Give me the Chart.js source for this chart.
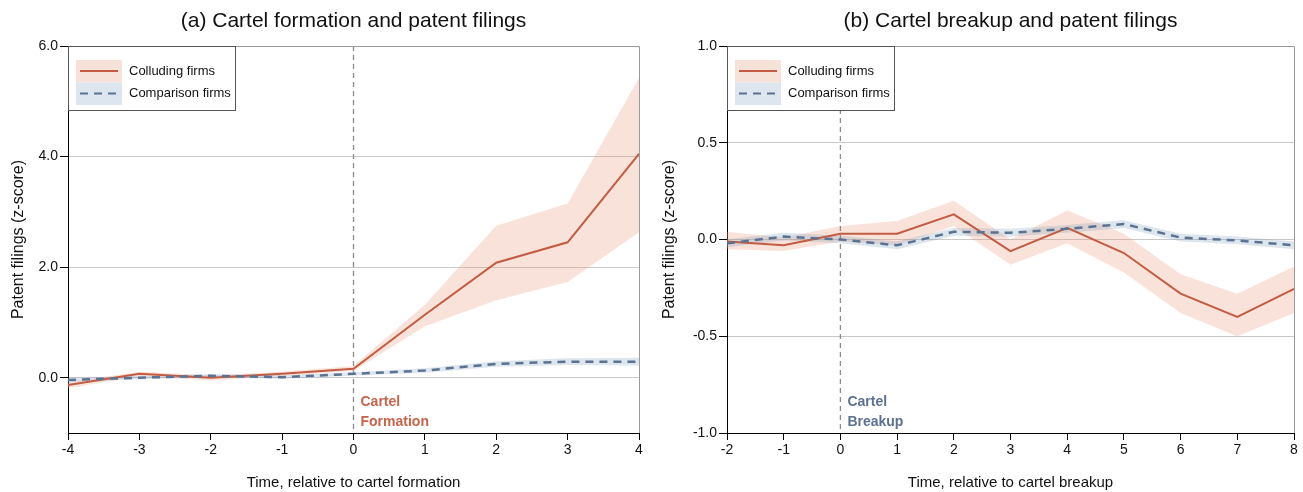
<!DOCTYPE html>
<html>
<head>
<meta charset="utf-8">
<script src="https://cdn.jsdelivr.net/npm/chart.js@4/dist/chart.umd.min.js"></script>
<style>
  body { margin: 0; background: #fff; }
  .panel { position: absolute; top: 0; }
</style>
</head>
<body>
<div class="panel" style="left:0"><canvas id="chartA" width="651" height="492"></canvas></div>
<div class="panel" style="left:651px"><canvas id="chartB" width="652" height="492"></canvas></div>
<script>
// Panel (a): cartel formation
const xA = [-4, -3, -2, -1, 0, 1, 2, 3, 4];
const collA = [-0.13, 0.07, 0.0, 0.07, 0.16, 1.14, 2.08, 2.45, 4.05];
const collAHi = [-0.08, 0.11, 0.04, 0.11, 0.21, 1.32, 2.75, 3.15, 5.42];
const collALo = [-0.19, 0.03, -0.05, 0.03, 0.12, 0.93, 1.40, 1.73, 2.63];
const compA = [-0.04, 0.0, 0.035, 0.01, 0.07, 0.13, 0.25, 0.29, 0.29];
const compAHi = [0.0, 0.03, 0.065, 0.04, 0.10, 0.17, 0.30, 0.35, 0.36];
const compALo = [-0.08, -0.03, 0.005, -0.02, 0.04, 0.09, 0.20, 0.23, 0.22];
const yTicksA = [0, 2, 4, 6];

// Panel (b): cartel breakup
const xB = [-2, -1, 0, 1, 2, 3, 4, 5, 6, 7, 8];
const collB = [-0.01, -0.03, 0.03, 0.03, 0.13, -0.06, 0.06, -0.07, -0.28, -0.40, -0.255];
const collBHi = [0.04, 0.01, 0.07, 0.095, 0.20, 0.0, 0.15, 0.03, -0.18, -0.28, -0.14];
const collBLo = [-0.05, -0.06, -0.01, -0.03, 0.07, -0.13, -0.02, -0.17, -0.38, -0.50, -0.38];
const compB = [-0.02, 0.015, 0.0, -0.03, 0.04, 0.035, 0.055, 0.08, 0.01, -0.005, -0.03];
const compBHi = [0.0, 0.035, 0.02, -0.01, 0.06, 0.055, 0.075, 0.10, 0.03, 0.015, -0.01];
const compBLo = [-0.04, -0.005, -0.02, -0.05, 0.02, 0.015, 0.035, 0.06, -0.01, -0.025, -0.05];
const yTicksB = [-1, -0.5, 0, 0.5, 1];

const seriesNames = ['Colluding firms', 'Comparison firms'];

const FONT = '"Liberation Sans", Arial, Helvetica, sans-serif';
Chart.defaults.font.family = FONT;
Chart.defaults.color = '#111';

const RED = '#c35c43';
const RED_BAND = 'rgba(232,160,130,0.3)';
const BLUE = '#5a7392';
const BLUE_BAND = 'rgba(120,150,185,0.25)';

const pts = (xs, ys) => xs.map((x, i) => ({ x: x, y: ys[i] }));

// Title, legend, event line, annotation and grey frame
const panelDecor = {
  id: 'panelDecor',
  beforeDatasetsDraw(chart, args, opts) {
    const { ctx, chartArea: a, scales } = chart;
    const x0 = scales.x.getPixelForValue(opts.eventAt);
    ctx.save();
    ctx.strokeStyle = '#8a8a8a';
    ctx.lineWidth = 1.3;
    ctx.setLineDash([5, 4]);
    ctx.beginPath();
    ctx.moveTo(x0, a.top);
    ctx.lineTo(x0, a.bottom);
    ctx.stroke();
    ctx.restore();
  },
  afterDraw(chart, args, opts) {
    const { ctx, chartArea: a, scales } = chart;
    ctx.save();
    // frame top/right
    ctx.strokeStyle = '#9a9a9a';
    ctx.lineWidth = 1;
    ctx.beginPath();
    ctx.moveTo(a.left, a.top + 0.5);
    ctx.lineTo(a.right + 0.5, a.top + 0.5);
    ctx.lineTo(a.right + 0.5, a.bottom);
    ctx.stroke();

    // title
    ctx.fillStyle = '#111';
    ctx.font = '21px ' + FONT;
    ctx.textAlign = 'center';
    ctx.textBaseline = 'middle';
    ctx.fillText(opts.title, (a.left + a.right) / 2, 21);

    // legend
    const lx = a.left, ly = a.top;
    ctx.fillStyle = '#fff';
    ctx.fillRect(lx, ly, 168, 65);
    ctx.strokeStyle = '#555';
    ctx.strokeRect(lx + 0.5, ly + 0.5, 167, 64);
    const entries = [
      { band: 'rgb(246,226,216)', color: RED, dash: [] },
      { band: 'rgb(221,229,238)', color: BLUE, dash: [8, 6] }
    ];
    entries.forEach((e, i) => {
      const y = ly + 14 + i * 22.5;
      ctx.fillStyle = e.band;
      ctx.fillRect(lx + 8, y, 46, 22.5);
      ctx.strokeStyle = e.color;
      ctx.lineWidth = 2;
      ctx.setLineDash(e.dash);
      ctx.beginPath();
      ctx.moveTo(lx + 12, y + 11);
      ctx.lineTo(lx + 50, y + 11);
      ctx.stroke();
      ctx.setLineDash([]);
      ctx.fillStyle = '#111';
      ctx.font = '13px ' + FONT;
      ctx.textAlign = 'left';
      ctx.fillText(seriesNames[i], lx + 61, y + 11);
    });

    // event annotation
    const x0 = scales.x.getPixelForValue(opts.eventAt);
    ctx.fillStyle = opts.noteColor;
    ctx.font = 'bold 14px ' + FONT;
    ctx.textAlign = 'left';
    ctx.fillText(opts.note[0], x0 + 7, a.bottom - 31);
    ctx.fillText(opts.note[1], x0 + 7, a.bottom - 11);
    ctx.restore();
  }
};

function makeChart(id, xs, coll, collHi, collLo, comp, compHi, compLo, yMin, yMax, yTicks, yWidth, padRight, xTitle, decor) {
  return new Chart(document.getElementById(id), {
    type: 'line',
    data: {
      datasets: [
        { data: pts(xs, compHi), fill: '+1', backgroundColor: BLUE_BAND, borderWidth: 0, pointRadius: 0 },
        { data: pts(xs, compLo), fill: false, borderWidth: 0, pointRadius: 0 },
        { data: pts(xs, collHi), fill: '+1', backgroundColor: RED_BAND, borderWidth: 0, pointRadius: 0 },
        { data: pts(xs, collLo), fill: false, borderWidth: 0, pointRadius: 0 },
        { data: pts(xs, comp), borderColor: BLUE, borderWidth: 2.5, borderDash: [8, 6], pointRadius: 0, fill: false },
        { data: pts(xs, coll), borderColor: RED, borderWidth: 2, pointRadius: 0, fill: false }
      ]
    },
    options: {
      responsive: false,
      animation: false,
      layout: { padding: { top: 46, right: padRight, left: 0, bottom: 0 } },
      plugins: {
        legend: { display: false },
        tooltip: { enabled: false },
        filler: { drawTime: 'beforeDatasetsDraw' },
        panelDecor: decor
      },
      scales: {
        x: {
          type: 'linear',
          min: xs[0],
          max: xs[xs.length - 1],
          ticks: { stepSize: 1, font: { size: 14 }, color: '#111', padding: 2 },
          grid: { drawOnChartArea: false, tickLength: 7, tickColor: '#000' },
          border: { color: '#000', width: 1 },
          title: { display: true, text: xTitle, font: { size: 15 }, color: '#111', padding: { top: 0, bottom: 0 } },
          afterFit: (s) => { s.height = 59; }
        },
        y: {
          min: yMin,
          max: yMax,
          afterBuildTicks: (s) => { s.ticks = yTicks.map(v => ({ value: v })); },
          ticks: { font: { size: 14 }, color: '#111', padding: 2, callback: (v) => Number(v).toFixed(1) },
          grid: { color: '#c8c8c8', tickLength: 8, tickColor: '#000' },
          border: { color: '#000', width: 1 },
          title: { display: true, text: 'Patent filings (z-score)', font: { size: 16 }, color: '#111', padding: { top: 9, bottom: 0 } },
          afterFit: (s) => { s.width = yWidth; }
        }
      }
    },
    plugins: [panelDecor]
  });
}

makeChart('chartA', xA, collA, collAHi, collALo, compA, compAHi, compALo, -1, 6, yTicksA, 68, 12,
  'Time, relative to cartel formation',
  { title: '(a) Cartel formation and patent filings', eventAt: 0, note: ['Cartel', 'Formation'], noteColor: '#c9634a' });

makeChart('chartB', xB, collB, collBHi, collBLo, compB, compBHi, compBLo, -1, 1, yTicksB, 76, 9,
  'Time, relative to cartel breakup',
  { title: '(b) Cartel breakup and patent filings', eventAt: 0, note: ['Cartel', 'Breakup'], noteColor: '#5d7090' });
</script>
</body>
</html>
